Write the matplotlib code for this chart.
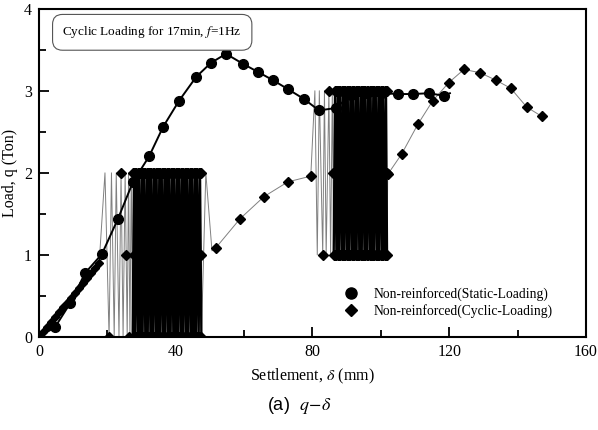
import matplotlib.pyplot as plt
import numpy as np
from matplotlib.ticker import MultipleLocator

plt.rcParams['font.family'] = ['Liberation Serif', 'DejaVu Serif']
plt.rcParams['mathtext.fontset'] = 'stix'

# static loading (circles)
static_x = [0, 4.7, 9.1, 13.5, 18.4, 23.1, 27.5, 32.2, 36.3, 41.0, 46.0, 50.3, 54.7,
            59.6, 64.0, 68.4, 72.8, 77.5, 81.9, 86.8, 91.3, 95.9, 100.4, 105.0,
            109.4, 114.0, 118.4, 120.2]
static_y = [0, 0.12, 0.41, 0.78, 1.01, 1.44, 1.89, 2.20, 2.56, 2.88, 3.17, 3.34, 3.45,
            3.33, 3.23, 3.13, 3.02, 2.90, 2.76, 2.79, 2.95, 2.97, 2.97, 2.96,
            2.96, 2.97, 2.94, 2.97]

# cyclic loading (diamonds): first ramp
ramp_x = [0, 1.2, 2.4, 3.5, 4.7, 5.9, 7.0, 8.2, 9.4, 10.6, 11.7, 12.9, 14.1, 15.2, 16.4, 17.6]
ramp_y = [0, 0.06, 0.12, 0.18, 0.24, 0.30, 0.36, 0.42, 0.48, 0.54, 0.60, 0.66, 0.72,
          0.78, 0.84, 0.90]

# block 1: load cycles between 0 and 2 ton (settlement of each turning point)
b1_levels = [0.0, 1.0, 2.0]
b1_sparse = [19.3, 20.5, 21.2, 22.0, 22.6, 23.4, 24.0, 24.6, 25.2, 25.8, 26.2, 26.6,
             27.0, 27.4]
b1_dense = [27.8, 28.1, 28.5, 28.9, 29.2, 29.6, 30.0, 30.3, 30.7, 31.1, 31.5, 31.8,
            32.2, 32.6, 32.9, 33.3, 33.7, 34.1, 34.4, 34.8, 35.2, 35.5, 35.9, 36.3,
            36.7, 37.0, 37.4, 37.8, 38.1, 38.5, 38.9, 39.3, 39.6, 40.0, 40.4, 40.7,
            41.1, 41.5, 41.9, 42.2, 42.6, 43.0, 43.3, 43.7, 44.1, 44.5, 44.8, 45.2,
            45.6, 45.9, 46.3, 46.7, 47.1, 47.5]
b1_mark_x = [20.5, 24.0, 25.4, 26.3, 27.5]
b1_mark_y = [0.0, 2.0, 1.0, 0.0, 2.0]
link1_x = [48.8, 50.6]
link1_y = [2.0, 1.05]

post1_x = [51.8, 58.8, 65.8, 72.8, 79.5]
post1_y = [1.09, 1.44, 1.71, 1.89, 1.96]

# block 2: load cycles between 1 and 3 ton
b2_levels = [1.0, 2.0, 3.0]
b2_sparse = [80.7, 81.4, 82.0, 83.0, 83.5, 84.0, 84.8, 85.3, 85.8, 86.2]
b2_dense = [86.6, 87.0, 87.4, 87.7, 88.1, 88.5, 88.9, 89.2, 89.6, 90.0, 90.3, 90.7,
            91.1, 91.5, 91.8, 92.2, 92.6, 92.9, 93.3, 93.7, 94.1, 94.4, 94.8, 95.2,
            95.5, 95.9, 96.3, 96.7, 97.0, 97.4, 97.8, 98.1, 98.5, 98.9, 99.3, 99.6,
            100.0, 100.4, 100.7, 101.1, 101.5, 101.8]
b2_mark_x = [83.0, 84.8, 86.0, 86.3, 87.1]
b2_mark_y = [1.0, 3.0, 2.0, 1.0, 3.0]

post2_x = [102.0, 106.1, 110.8, 115.2, 119.9, 124.3, 129.0, 133.6, 138.0, 142.7, 147.0]
post2_y = [1.98, 2.23, 2.59, 2.88, 3.10, 3.26, 3.22, 3.13, 3.03, 2.80, 2.69]


def alternate(xs, lo, hi):
    return [hi if i % 2 == 0 else lo for i in range(len(xs))]


b1_sparse_y = alternate(b1_sparse, b1_levels[0], b1_levels[2])
b1_dense_y = alternate(b1_dense, b1_levels[0], b1_levels[2])
b2_sparse_y = alternate(b2_sparse, b2_levels[0], b2_levels[2])
b2_dense_y = alternate(b2_dense, b2_levels[0], b2_levels[2])

cyc_x = ramp_x + b1_sparse + b1_dense + link1_x + post1_x + b2_sparse + b2_dense + post2_x
cyc_y = ramp_y + b1_sparse_y + b1_dense_y + link1_y + post1_y + b2_sparse_y + b2_dense_y + post2_y

fig = plt.figure(figsize=(5.98, 4.30), dpi=100)
ax = fig.add_axes([0.0652, 0.2163, 0.9147, 0.7635])

# cyclic trace
ax.plot(cyc_x, cyc_y, color='#808080', lw=0.7, zorder=2)
ax.plot([b1_sparse[-1]] + b1_dense, [b1_sparse_y[-1]] + b1_dense_y, color='black', lw=1.7, zorder=3)
ax.plot([b2_sparse[-1]] + b2_dense, [b2_sparse_y[-1]] + b2_dense_y, color='black', lw=1.7, zorder=3)

# cyclic markers
dm = dict(marker='D', color='black', ms=5, ls='none', zorder=3.5)
ax.plot(ramp_x, ramp_y, **{**dm, 'ms': 4})
ax.plot(b1_mark_x, b1_mark_y, **dm)
ax.plot(b2_mark_x, b2_mark_y, **dm)
for lev in b1_levels:
    ax.plot(b1_dense, [lev] * len(b1_dense), **dm)
for lev in b2_levels:
    ax.plot(b2_dense, [lev] * len(b2_dense), **dm)
ax.plot(post1_x, post1_y, **dm)
ax.plot(post2_x, post2_y, **dm)

# static curve
ax.plot(static_x, static_y, color='black', lw=1.4, marker='o', ms=7,
        markevery=slice(0, len(static_x) - 1), zorder=2.5)

ax.set_xlim(0, 160)
ax.set_ylim(0, 4)
ax.xaxis.set_major_locator(MultipleLocator(40))
ax.xaxis.set_minor_locator(MultipleLocator(20))
ax.yaxis.set_major_locator(MultipleLocator(1))
ax.yaxis.set_minor_locator(MultipleLocator(0.5))
ax.tick_params(which='both', direction='in', width=1.3, labelsize=11.5, colors='black')
ax.tick_params(which='major', length=7, pad=5)
ax.tick_params(which='minor', length=5)
for s in ax.spines.values():
    s.set_linewidth(1.5)

ax.set_xlabel(r'Settlement, $\delta$ (mm)', fontsize=11.5, labelpad=5)
ax.set_ylabel('Load, q (Ton)', fontsize=11.5, labelpad=4)

ax.text(0.207, 0.928, r'Cyclic Loading for 17min, $f$=1Hz', transform=ax.transAxes,
        fontsize=9.5, ha='center', va='center',
        bbox=dict(boxstyle='round,pad=0.75', fc='white', ec='#555555', lw=0.8))

h1, = ax.plot([], [], marker='o', color='black', ms=8, ls='none')
h2, = ax.plot([], [], marker='D', color='black', ms=6, ls='none')
ax.legend([h1, h2], ['Non-reinforced(Static-Loading)', 'Non-reinforced(Cyclic-Loading)'],
          loc='upper left', bbox_to_anchor=(0.53, 0.19), frameon=False, fontsize=9.8,
          handletextpad=0.9, labelspacing=0.25, handlelength=1.5)

fig.text(0.5, 1 - 405 / 430, r'(a)  $q\!-\!\delta$', ha='center', va='center', fontsize=13,
         family=['Liberation Sans', 'DejaVu Sans'])

fig.savefig('out.png', dpi=100)
